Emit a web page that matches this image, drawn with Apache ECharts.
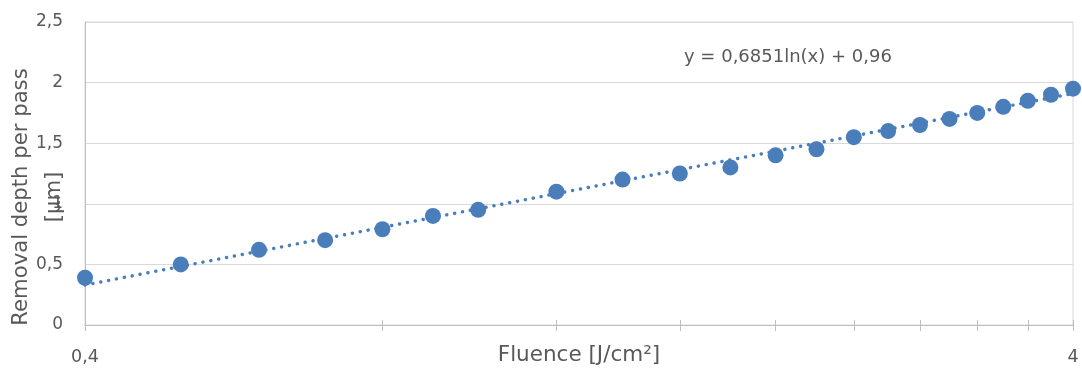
<!DOCTYPE html>
<html>
<head>
<meta charset="utf-8">
<script src="https://cdn.jsdelivr.net/npm/echarts@6/dist/echarts.min.js"></script>
<style>
html,body{margin:0;padding:0;background:#fff;}
#chart{width:1082px;height:369px;}
</style>
</head>
<body>
<div id="chart"></div>
<script>
// Fluence values [J/cm²]
const fluence = [0.4, 0.5, 0.6, 0.7, 0.8, 0.9, 1.0, 1.2, 1.4, 1.6, 1.8, 2.0, 2.2, 2.4, 2.6, 2.8, 3.0, 3.2, 3.4, 3.6, 3.8, 4.0];
// Removal depth per pass [µm]
const depth = [0.39, 0.50, 0.62, 0.70, 0.79, 0.90, 0.95, 1.10, 1.20, 1.25, 1.30, 1.40, 1.45, 1.55, 1.60, 1.65, 1.70, 1.75, 1.80, 1.85, 1.90, 1.95];
// Logarithmic trendline endpoints (straight on log x axis)
const trendX = [0.4, 4.0];
const trendY = [0.33, 1.91];
const trendLabel = 'y = 0,6851ln(x) + 0,96';
// Axis ticks
const xTickValues = [0.4, 0.8, 1.2, 1.6, 2.0, 2.4, 2.8, 3.2, 3.6, 4.0];
const xLabelValues = [0.4, 4.0];
const yMin = 0, yMax = 2.5, yStep = 0.5;
const xTitle = 'Fluence [J/cm²]';
const yTitle = 'Removal depth per pass\n[µm]';

const FONT = 'DejaVu Sans';
const TXT = '#595959';
const BLUE = '#4a7ebb';
const fmt = v => String(+v.toFixed(2)).replace('.', ',');

const chart = echarts.init(document.getElementById('chart'), null, {renderer: 'canvas'});
const xBase = {
  type: 'log', logBase: 10, min: 0.4, max: 4,
  axisLine: {show: true, lineStyle: {color: '#bfbfbf', width: 1}},
  splitLine: {show: false},
  minorTick: {show: false}
};
chart.setOption({
  animation: false,
  grid: {left: 85, right: 9, top: 22, bottom: 44, show: true, borderColor: '#d9d9d9', borderWidth: 1,
         containLabel: false, outerBoundsMode: 'none'},
  xAxis: [
    Object.assign({}, xBase, {
      position: 'bottom',
      name: xTitle, nameLocation: 'middle', nameGap: 19, nameMoveOverlap: false,
      nameTextStyle: {fontFamily: FONT, fontSize: 21.5, color: TXT, verticalAlign: 'top'},
      axisTick: {show: true, inside: false, length: 6, customValues: xTickValues, lineStyle: {color: '#bfbfbf'}},
      axisLabel: {show: true, customValues: xLabelValues, formatter: fmt, margin: 23, fontFamily: FONT, fontSize: 17.5, color: TXT}
    }),
    Object.assign({}, xBase, {
      position: 'bottom',
      axisTick: {show: true, inside: true, length: 5, customValues: xTickValues, lineStyle: {color: '#bfbfbf'}},
      axisLabel: {show: false}
    })
  ],
  yAxis: {
    type: 'value', min: yMin, max: yMax, interval: yStep,
    axisLine: {show: true, lineStyle: {color: '#bfbfbf'}},
    axisTick: {show: false},
    splitLine: {show: true, lineStyle: {color: '#d9d9d9', width: 1}},
    axisLabel: {formatter: fmt, margin: 22, fontFamily: FONT, fontSize: 17, color: TXT}
  },
  graphic: [
    {type: 'text', x: 38, y: 197, rotation: Math.PI / 2,
     style: {text: yTitle, fontFamily: FONT, fontSize: 21.2, fill: TXT, textAlign: 'center', textVerticalAlign: 'middle', lineHeight: 33}},
    {type: 'text', left: 684, top: 48,
     style: {text: trendLabel, fontFamily: FONT, fontSize: 18, fill: TXT}}
  ],
  series: [
    {type: 'scatter', xAxisIndex: 0, data: fluence.map((x, i) => [x, depth[i]]),
     symbol: 'circle', symbolSize: 16, itemStyle: {color: BLUE, opacity: 1}, z: 2},
    {type: 'line', xAxisIndex: 0, data: trendX.map((x, i) => [x, trendY[i]]),
     symbol: 'none', lineStyle: {color: BLUE, width: 3.5, type: [0.01, 8], cap: 'round'}, z: 3, silent: true}
  ]
});
</script>
</body>
</html>
